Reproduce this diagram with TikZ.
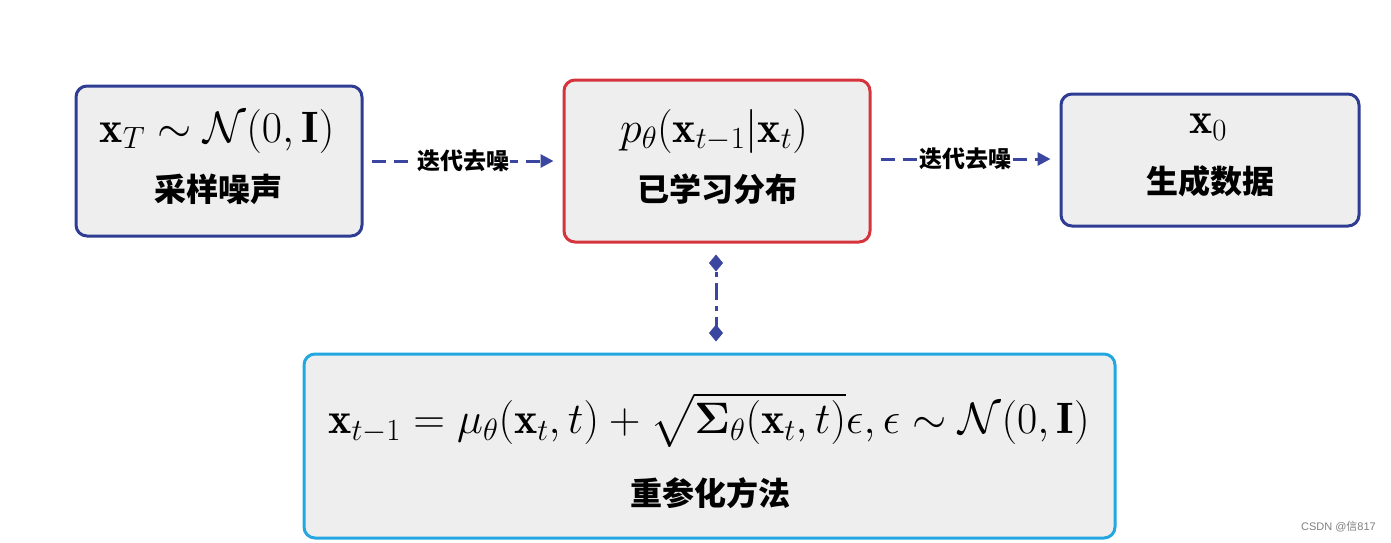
\RequirePackage{fix-cm}
\documentclass[tikz,border=0pt]{standalone}
\usepackage{amsmath,amssymb,bm}
\usepackage{fontspec}
\newfontfamily\cjk{Noto Sans CJK SC}
\newfontfamily\wmfont{Liberation Sans}
\usetikzlibrary{arrows.meta}
\definecolor{dblue}{HTML}{2F3C93}
\definecolor{rred}{HTML}{D6343C}
\definecolor{cyanb}{HTML}{22A7E0}
\definecolor{boxfill}{HTML}{EEEEEE}
\definecolor{arrblue}{HTML}{3A46A0}
\begin{document}
\begin{tikzpicture}[x=1pt,y=-1pt,
  box/.style={draw, line width=3pt, fill=boxfill, rounded corners=11pt, inner sep=0pt},
  formula/.style={inner sep=0pt, font=\fontsize{44}{50}\selectfont},
  cn/.style={inner sep=0pt, font=\fontsize{32}{38}\selectfont\cjk\bfseries},
  lbl/.style={fill=white, inner sep=1pt, font=\fontsize{23}{27}\selectfont\cjk\bfseries},
  dasharrow/.style={draw=arrblue, line width=3pt, dash pattern=on 14pt off 8pt, -{Triangle[length=13pt,width=13pt]}},
  diamondline/.style={draw=arrblue, line width=3pt, dash pattern=on 5pt off 6pt on 17pt off 6pt, dash phase=-3pt, {Diamond[length=17pt,width=14pt]}-{Diamond[length=17pt,width=14pt]}}
]
\useasboundingbox (0,0) rectangle (1391,542);
\fill[white] (0,0) rectangle (1391,542);

\node[box, draw=dblue, minimum width=286pt, minimum height=150pt] (b1) at (219,161) {};
\node[box, draw=rred, minimum width=306pt, minimum height=162pt] (b2) at (717,161) {};
\node[box, draw=dblue, minimum width=298pt, minimum height=132pt] (b3) at (1210,160) {};
\node[box, draw=cyanb, minimum width=811pt, minimum height=184pt] (b4) at (709.5,446) {};

\node[formula] (f1) at (217,131) {$\mathbf{x}_T\sim\mathcal{N}(0,\mathbf{I})$};
\node[cn] (c1) at (218,189) {采样噪声};
\node[formula] (f2) at (714,131) {$p_\theta(\mathbf{x}_{t-1}|\mathbf{x}_t)$};
\node[cn] (c2) at (717,189) {已学习分布};
\node[formula] (f3) at (1208,127) {$\mathbf{x}_0$};
\node[cn] (c3) at (1210,181) {生成数据};
\node[formula] (f4) at (709,420) {$\mathbf{x}_{t-1}=\mu_\theta(\mathbf{x}_t,t)+\sqrt{\boldsymbol{\Sigma}_\theta(\mathbf{x}_t,t)}\epsilon,\epsilon\sim\mathcal{N}(0,\mathbf{I})$};
\node[cn] (c4) at (710,493) {重参化方法};

\draw[dasharrow, shorten <=8pt, shorten >=9pt] (b1.east) -- node[lbl] (l1) {迭代去噪} (b2.west);
\draw[dasharrow, shorten <=9pt, shorten >=9pt] (b2.east |- 0,159) -- node[lbl] (l2) {迭代去噪} (b3.west |- 0,159);
\draw[diamondline, shorten <=11pt, shorten >=11pt] (b2.south -| 716,0) -- (b4.north -| 716,0);

\node[anchor=east, inner sep=0pt, text=gray, font=\fontsize{11}{13}\selectfont\wmfont] (wm) at (1376,527) {CSDN @{\cjk 信}817};
\end{tikzpicture}
\end{document}
